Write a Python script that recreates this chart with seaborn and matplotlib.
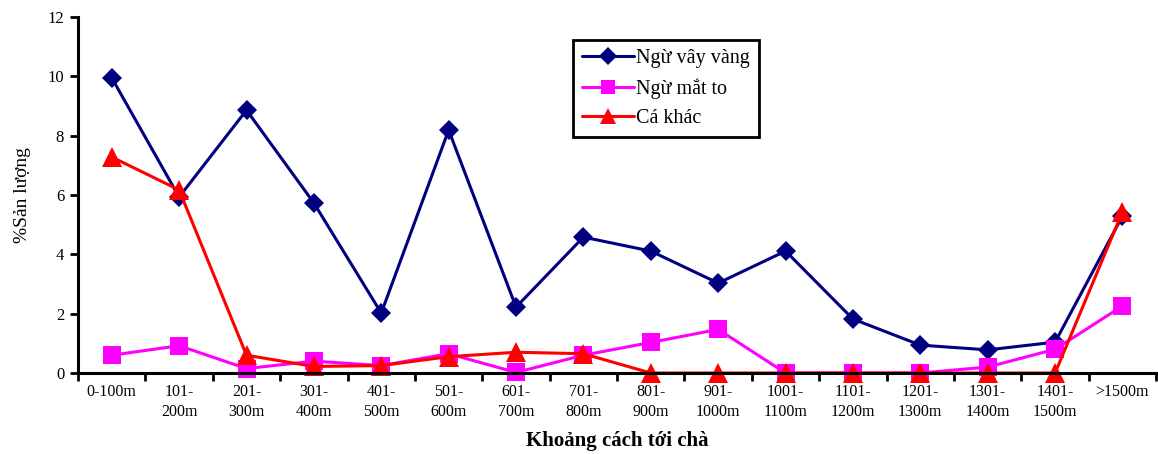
import numpy as np
import pandas as pd
import matplotlib
matplotlib.use("Agg")
import matplotlib.pyplot as plt
import seaborn as sns

# Distance classes from the fish aggregating device
categories = ["0-100m", "101-\n200m", "201-\n300m", "301-\n400m", "401-\n500m",
              "501-\n600m", "601-\n700m", "701-\n800m", "801-\n900m", "901-\n1000m",
              "1001-\n1100m", "1101-\n1200m", "1201-\n1300m", "1301-\n1400m",
              "1401-\n1500m", ">1500m"]

# Share of catch (%) per species group
ngu_vay_vang = [9.95, 5.93, 8.86, 5.73, 2.02, 8.19, 2.22, 4.58, 4.11, 3.03,
                4.11, 1.82, 0.94, 0.78, 1.04, 5.29]
ngu_mat_to = [0.60, 0.92, 0.15, 0.40, 0.25, 0.65, 0.02, 0.60, 1.03, 1.47,
              0.0, 0.0, 0.0, 0.20, 0.80, 2.26]
ca_khac = [7.28, 6.17, 0.60, 0.22, 0.25, 0.55, 0.70, 0.65, 0.0, 0.0,
           0.0, 0.0, 0.0, 0.0, 0.0, 5.43]

series_names = ["Ngừ vây vàng", "Ngừ mắt to", "Cá khác"]
series_values = [ngu_vay_vang, ngu_mat_to, ca_khac]

rows = []
for name, vals in zip(series_names, series_values):
    for i, v in enumerate(vals):
        rows.append({"pos": i, "value": v, "group": name})
df = pd.DataFrame(rows)

sns.set_theme(style="ticks")
plt.rcParams["font.family"] = ["Liberation Serif", "DejaVu Serif"]
plt.rcParams["text.color"] = "black"
plt.rcParams["axes.labelcolor"] = "black"
plt.rcParams["xtick.color"] = "black"
plt.rcParams["ytick.color"] = "black"

fig = plt.figure(figsize=(11.58, 4.54), dpi=100)
ax = fig.add_axes([0.0674, 0.1784, 0.931, 0.7842])

palette = {"Ngừ vây vàng": "#000080", "Ngừ mắt to": "#FF00FF", "Cá khác": "#FF0000"}
markers = {"Ngừ vây vàng": "D", "Ngừ mắt to": "s", "Cá khác": "^"}
sizes = {"Ngừ vây vàng": 10.5, "Ngừ mắt to": 12.5, "Cá khác": 14}

sns.lineplot(data=df, x="pos", y="value", hue="group", style="group",
             palette=palette, markers=markers, dashes=False,
             hue_order=series_names, style_order=series_names,
             linewidth=2.2, markersize=11, markeredgewidth=0, ax=ax)

for line, name in zip(ax.lines[:3], series_names):
    line.set_markersize(sizes[name])
    line.set_markeredgecolor(palette[name])
    line.set_markerfacecolor(palette[name])
    line.set_clip_on(False)

ax.set_xlim(-0.5, len(categories) - 0.5)
ax.set_ylim(0, 12)
ax.set_yticks(np.arange(0, 13, 2))
ax.set_yticklabels([str(v) for v in range(0, 13, 2)], fontsize=12)

ax.set_xticks(np.arange(len(categories)))
ax.set_xticklabels(categories, fontsize=11.5, linespacing=1.3)
ax.set_xticks(np.arange(-0.5, len(categories), 1.0), minor=True)
ax.tick_params(axis="x", which="major", bottom=True, length=0, pad=8)
ax.tick_params(axis="x", which="minor", bottom=True, length=6, width=2,
               direction="out", color="black")
ax.tick_params(axis="y", which="major", left=True, length=6, width=2,
               direction="out", color="black", pad=4)
ax.tick_params(axis="y", which="minor", left=False)

for s in ["top", "right"]:
    ax.spines[s].set_visible(False)
for s in ["left", "bottom"]:
    ax.spines[s].set_linewidth(2.2)
    ax.spines[s].set_color("black")

ax.set_xlabel("Khoảng cách tới chà", fontsize=15, fontweight="bold", labelpad=8)
ax.set_ylabel("%Sản lượng", fontsize=14, labelpad=12)

handles, labels = ax.get_legend_handles_labels()
leg = ax.legend(handles, labels, loc="upper left",
                bbox_to_anchor=(573 / 1158, 1 - 40 / 454),
                bbox_transform=fig.transFigure,
                fontsize=14.5, frameon=True, fancybox=False, framealpha=1,
                edgecolor="black", handlelength=2.6, handletextpad=0.1,
                labelspacing=0.5, borderpad=0.45, borderaxespad=0)
leg.get_frame().set_linewidth(2)
for h, name in zip(leg.legend_handles, series_names):
    h.set_markersize(sizes[name] * 0.85)

fig.savefig("out.png", dpi=100)
